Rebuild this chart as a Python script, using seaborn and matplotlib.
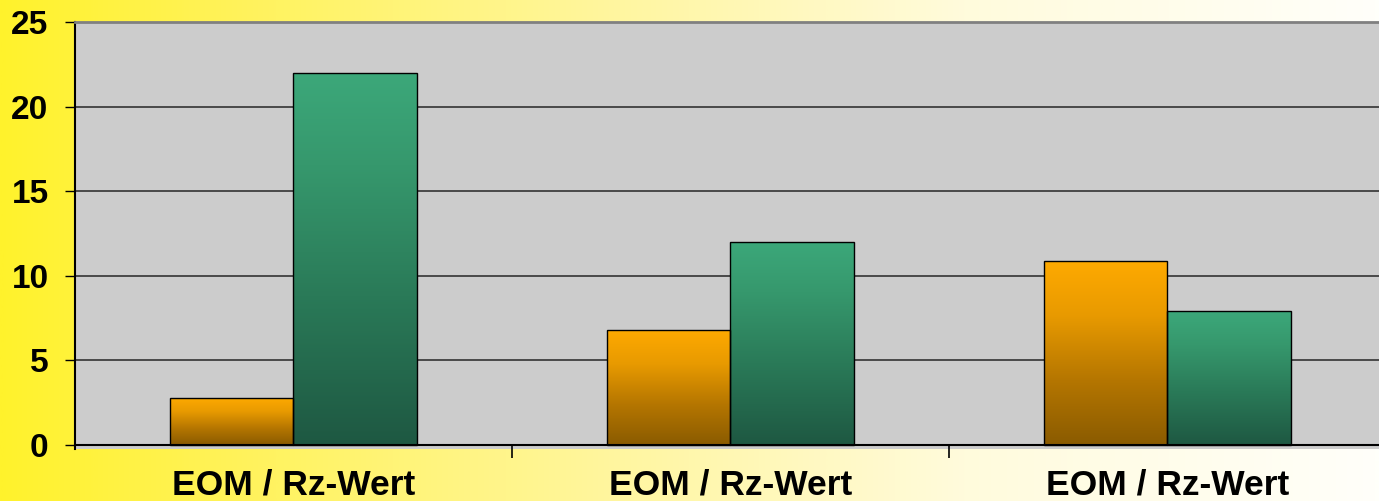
import numpy as np
import pandas as pd
import matplotlib
matplotlib.use("Agg")
import matplotlib.pyplot as plt
import seaborn as sns
from matplotlib.colors import LinearSegmentedColormap

# ---- data ----
groups = ["G1", "G2", "G3"]
group_labels = ["EOM / Rz-Wert", "EOM / Rz-Wert", "EOM / Rz-Wert"]
series = ["Reihe 1", "Reihe 2"]
values_s1 = [2.8, 6.8, 10.9]
values_s2 = [22.0, 12.0, 7.9]
y_ticks = [0, 5, 10, 15, 20, 25]

df = pd.DataFrame({
    "group": groups * 2,
    "series": [series[0]] * len(groups) + [series[1]] * len(groups),
    "value": values_s1 + values_s2,
})

sns.set_theme(style="white")
plt.rcParams['font.family'] = ['Liberation Sans', 'DejaVu Sans']
plt.rcParams['font.weight'] = 'bold'

W, H = 1379, 501
fig = plt.figure(figsize=(W / 100, H / 100), dpi=100)

# background gradient (yellow -> white)
bg = fig.add_axes([0, 0, 1, 1], zorder=-10)
bg_cmap = LinearSegmentedColormap.from_list(
    "bg", [(0, "#FFF22C"), (0.2, "#FFF362"), (0.45, "#FFF6A0"),
           (0.7, "#FFFBDC"), (1, "#FFFFFA")])
bg.imshow(np.linspace(0, 1, 512)[None, :], aspect='auto', cmap=bg_cmap,
          extent=[0, 1, 0, 1])
bg.set_xlim(0, 1); bg.set_ylim(0, 1)
bg.axis('off')

ax = fig.add_axes([75 / W, 1 - 449 / H, 1311 / W, 427 / H])
ax.set_facecolor("#CCCCCC")

sns.barplot(data=df, x="group", y="value", hue="series", order=groups,
            hue_order=series, palette=["#FFAA00", "#3CA87A"], saturation=1,
            width=0.567, gap=0, edgecolor="black", linewidth=1.0,
            legend=False, errorbar=None, ax=ax, zorder=3)

orange_cmap = LinearSegmentedColormap.from_list(
    "o", [(0, "#8A5B00"), (0.35, "#B57600"), (0.7, "#E89A00"), (1, "#FFAA00")])
green_cmap = LinearSegmentedColormap.from_list(
    "g", [(0, "#1E5842"), (0.4, "#2A7A58"), (0.75, "#36986D"), (1, "#3CA87A")])

grad = np.linspace(0, 1, 256)[:, None]
for patch in list(ax.patches):
    fc = patch.get_facecolor()
    cmap = orange_cmap if fc[0] > fc[1] else green_cmap
    x0, y0 = patch.get_x(), patch.get_y()
    w, h = patch.get_width(), patch.get_height()
    im = ax.imshow(grad, origin='lower', aspect='auto', cmap=cmap,
                   extent=[x0, x0 + w, y0, y0 + h], zorder=3.5)
    im.set_clip_path(patch)
    patch.set_facecolor("none")
    patch.set_zorder(4)

ax.set_xlim(-0.5, 2.5)
ax.set_ylim(-0.236, 25)
ax.set_yticks(y_ticks)
ax.set_xticks(range(len(groups)))
ax.set_xticklabels(group_labels)
ax.set_xticks([0.5, 1.5], minor=True)
ax.set_xlabel("")
ax.set_ylabel("")

ax.yaxis.grid(True, color="#333333", linewidth=1.2)
ax.set_axisbelow(True)

ax.spines['bottom'].set_position(('data', 0))
ax.spines['bottom'].set_color("black")
ax.spines['bottom'].set_linewidth(1.5)
ax.spines['bottom'].set_zorder(5)
ax.spines['left'].set_color("black")
ax.spines['left'].set_linewidth(1.5)
ax.spines['top'].set_color("#808080")
ax.spines['top'].set_linewidth(2)
ax.spines['right'].set_visible(False)

ax.tick_params(axis='y', which='major', left=True, direction='out', length=7,
               width=1, color='black', pad=12, labelsize=24, labelcolor='black')
ax.tick_params(axis='x', which='major', bottom=True, length=0, pad=17,
               labelsize=25.5, labelcolor='black')
ax.tick_params(axis='x', which='minor', bottom=True, direction='out',
               length=9, width=1.2, color='black')
for lbl in ax.get_xticklabels() + ax.get_yticklabels():
    lbl.set_fontweight('bold')

fig.savefig("out.png", dpi=100)
